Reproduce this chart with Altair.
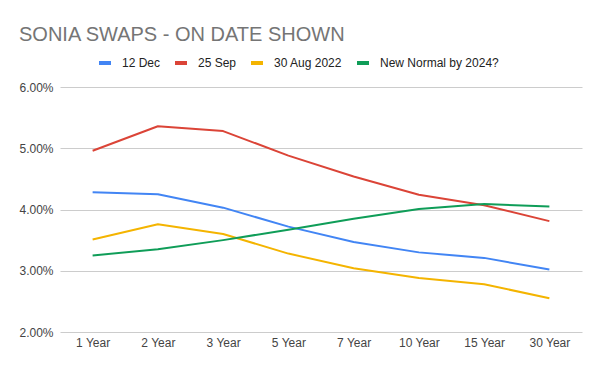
import altair as alt
import pandas as pd

tenors = ["1 Year", "2 Year", "3 Year", "5 Year", "7 Year", "10 Year", "15 Year", "30 Year"]
series_names = ["12 Dec", "25 Sep", "30 Aug 2022", "New Normal by 2024?"]
dec12 = [4.28, 4.25, 4.03, 3.72, 3.47, 3.30, 3.21, 3.02]
sep25 = [4.96, 5.36, 5.28, 4.88, 4.54, 4.24, 4.07, 3.81]
aug30 = [3.51, 3.76, 3.60, 3.28, 3.04, 2.88, 2.78, 2.55]
new_normal = [3.25, 3.35, 3.50, 3.67, 3.85, 4.01, 4.09, 4.05]
colors = ["#4285F4", "#DB4437", "#F4B400", "#0F9D58"]

rows = []
for name, vals in zip(series_names, [dec12, sep25, aug30, new_normal]):
    for t, v in zip(tenors, vals):
        rows.append({"tenor": t, "series": name, "rate": v})
df = pd.DataFrame(rows)

FONT = "Liberation Sans"

chart = alt.Chart(df).mark_line(strokeWidth=2, strokeJoin="round").encode(
    x=alt.X("tenor:N", sort=tenors, title=None,
            scale=alt.Scale(type="point", padding=0.5),
            axis=alt.Axis(labelAngle=0, ticks=False, domain=False, grid=False,
                          labelFont=FONT, labelFontSize=12, labelColor="#444444",
                          labelPadding=5)),
    y=alt.Y("rate:Q", title=None,
            scale=alt.Scale(domain=[2, 6], nice=False, zero=False),
            axis=alt.Axis(values=[2, 3, 4, 5, 6], ticks=False, domain=False,
                          labelExpr="format(datum.value, '.2f') + '%'",
                          labelFont=FONT, labelFontSize=12, labelColor="#444444",
                          labelPadding=7, gridColor="#cccccc", gridWidth=1)),
    color=alt.Color("series:N", sort=series_names,
                    scale=alt.Scale(domain=series_names, range=colors),
                    legend=alt.Legend(title=None, orient="none", direction="horizontal",
                                      legendX=37, legendY=-32,
                                      symbolType="stroke", symbolSize=144,
                                      symbolStrokeWidth=4, labelOffset=9,
                                      columnPadding=6,
                                      labelFont=FONT, labelFontSize=12,
                                      labelColor="#222222")),
).properties(
    width=522,
    height=245,
    padding={"left": 52, "top": 79, "right": 10, "bottom": 30},
    autosize=alt.AutoSizeParams(type="none"),
    title=alt.TitleParams("SONIA SWAPS - ON DATE SHOWN", anchor="start", frame="group",
                          font=FONT, fontSize=20, fontWeight="normal",
                          color="#757575", baseline="alphabetic", offset=12, dx=-41,
                          dy=18),
).configure_view(stroke=None)

chart.save("out.html", embed_options={"renderer": "svg", "actions": False})
